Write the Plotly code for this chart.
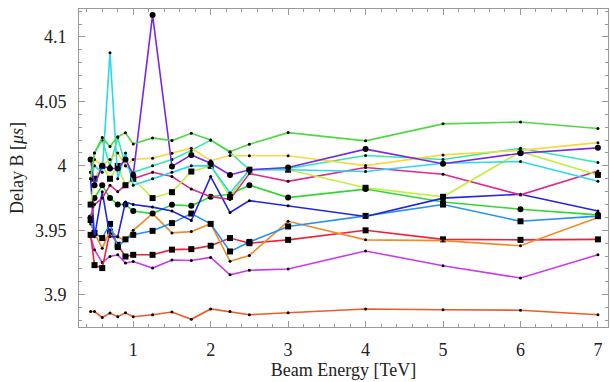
import plotly.graph_objects as go

energy = [0.45, 0.5, 0.6, 0.7, 0.8, 0.9, 1.0, 1.25, 1.5, 1.75, 2.0, 2.25, 2.5, 3, 4, 5, 6, 7]

s_bottom = [3.887, 3.887, 3.8824, 3.8858, 3.883, 3.886, 3.883, 3.8845, 3.8866, 3.881, 3.889, 3.887, 3.8845, 3.886, 3.889, 3.8884, 3.888, 3.8845]
s_violet = [3.945, 3.935, 3.925, 3.9297, 3.931, 3.9246, 3.9258, 3.9207, 3.927, 3.9266, 3.929, 3.9155, 3.919, 3.920, 3.934, 3.9225, 3.913, 3.931]
s_red = [3.9465, 3.923, 3.9207, 3.949, 3.9388, 3.9297, 3.931, 3.931, 3.935, 3.9354, 3.938, 3.944, 3.940, 3.9426, 3.950, 3.943, 3.9426, 3.943]
s_orange = [3.955, 3.948, 3.936, 3.950, 3.945, 3.942, 3.950, 3.963, 3.948, 3.949, 3.955, 3.926, 3.9305, 3.957, 3.9426, 3.942, 3.938, 3.960]
s_steel = [3.958, 3.948, 3.944, 3.955, 3.937, 3.943, 3.9465, 3.9496, 3.9556, 3.963, 3.955, 3.9336, 3.941, 3.953, 3.9612, 3.970, 3.957, 3.961]
s_green_lo = [3.960, 3.975, 3.985, 3.975, 3.970, 3.970, 3.965, 3.963, 3.9698, 3.969, 3.976, 3.978, 3.985, 3.9754, 3.982, 3.972, 3.9664, 3.962]
s_blue = [3.990, 3.945, 3.980, 3.945, 3.945, 3.972, 3.970, 3.968, 3.965, 3.9576, 3.9917, 3.9638, 3.973, 3.969, 3.9607, 3.975, 3.978, 3.965]
s_magenta = [3.960, 3.970, 3.975, 3.985, 3.980, 3.985, 3.990, 3.995, 3.9917, 3.982, 3.976, 3.974, 3.994, 3.988, 3.9987, 3.9935, 3.9775, 3.996]
s_ygreen = [3.970, 3.990, 4.000, 3.990, 4.000, 3.985, 3.990, 3.975, 3.9796, 3.9956, 4.000, 3.976, 3.997, 3.997, 3.983, 3.976, 4.011, 3.993]
s_cyan = [3.990, 4.000, 3.995, 4.0878, 3.990, 4.010, 3.985, 3.990, 3.995, 4.000, 4.000, 3.979, 3.997, 3.997, 3.9956, 4.002, 4.0034, 3.988]
s_teal = [3.995, 4.010, 4.020, 4.000, 4.022, 4.000, 3.995, 4.000, 4.005, 4.012, 4.020, 4.0105, 3.997, 3.998, 4.008, 4.005, 4.0137, 4.0026]
s_yellow = [3.995, 4.005, 4.000, 4.005, 4.010, 4.000, 4.005, 4.006, 4.0098, 4.0137, 4.004, 4.008, 4.0078, 4.0078, 4.0002, 4.0085, 4.012, 4.018]
s_purple = [4.005, 3.985, 4.000, 3.998, 3.998, 4.005, 3.993, 4.117, 3.9995, 4.0085, 4.002, 3.993, 3.997, 3.9987, 4.013, 4.0016, 4.0098, 4.014]
s_green_hi = [3.990, 4.010, 4.022, 4.015, 4.0225, 4.0256, 4.017, 4.0217, 4.0196, 4.0253, 4.020, 4.011, 4.0168, 4.0258, 4.0194, 4.0326, 4.034, 4.029]

series = [
    (s_bottom, "#F05A28", "circle", 3),
    (s_violet, "#C83CF0", "circle", 3),
    (s_red, "#F0203C", "square", 6),
    (s_orange, "#F08C28", "circle", 3),
    (s_steel, "#2890F0", "square", 6),
    (s_green_lo, "#30D830", "circle", 6),
    (s_blue, "#2424E0", "circle", 3),
    (s_magenta, "#E02890", "circle", 3),
    (s_ygreen, "#C0F040", "square", 6),
    (s_cyan, "#28D8F0", "circle", 3),
    (s_teal, "#30E8B0", "circle", 3),
    (s_yellow, "#F8D840", "circle", 3),
    (s_purple, "#7828E8", "circle", 6),
    (s_green_hi, "#50D840", "circle", 3),
]

fig = go.Figure()
for vals, col, sym, size in series:
    fig.add_trace(go.Scatter(
        x=energy, y=vals, mode="lines+markers",
        line=dict(color=col, width=1.6),
        marker=dict(color="black", symbol=sym, size=size),
        showlegend=False,
    ))

font = dict(family="Liberation Serif", size=18, color="#222")
axis_common = dict(
    showline=True, linecolor="#999", linewidth=1, mirror="ticks",
    ticks="inside", tickcolor="#999", ticklen=6, showgrid=False, zeroline=False,
    tickfont=font,
)
fig.update_xaxes(range=[0.3, 7.13], tickvals=[1, 2, 3, 4, 5, 6, 7],
                 minor=dict(ticks="inside", ticklen=3, dtick=0.2, tick0=0, tickcolor="#999"),
                 title=dict(text="Beam Energy [TeV]", font=font, standoff=4),
                 ticklabelstandoff=6, **axis_common)
fig.update_yaxes(range=[3.875, 4.1217], tickvals=[3.9, 3.95, 4.0, 4.05, 4.1],
                 ticktext=["3.9", "3.95", "4", "4.05", "4.1"],
                 minor=dict(ticks="inside", ticklen=3, dtick=0.01, tick0=0, tickcolor="#999"),
                 title=dict(text="Delay B [<i>μs</i>]", font=font, standoff=6),
                 ticklabelstandoff=8, **axis_common)
fig.update_layout(
    width=611, height=382,
    margin=dict(l=79, r=3, t=9, b=55),
    paper_bgcolor="white", plot_bgcolor="white",
)
fig.write_html("out.html")
